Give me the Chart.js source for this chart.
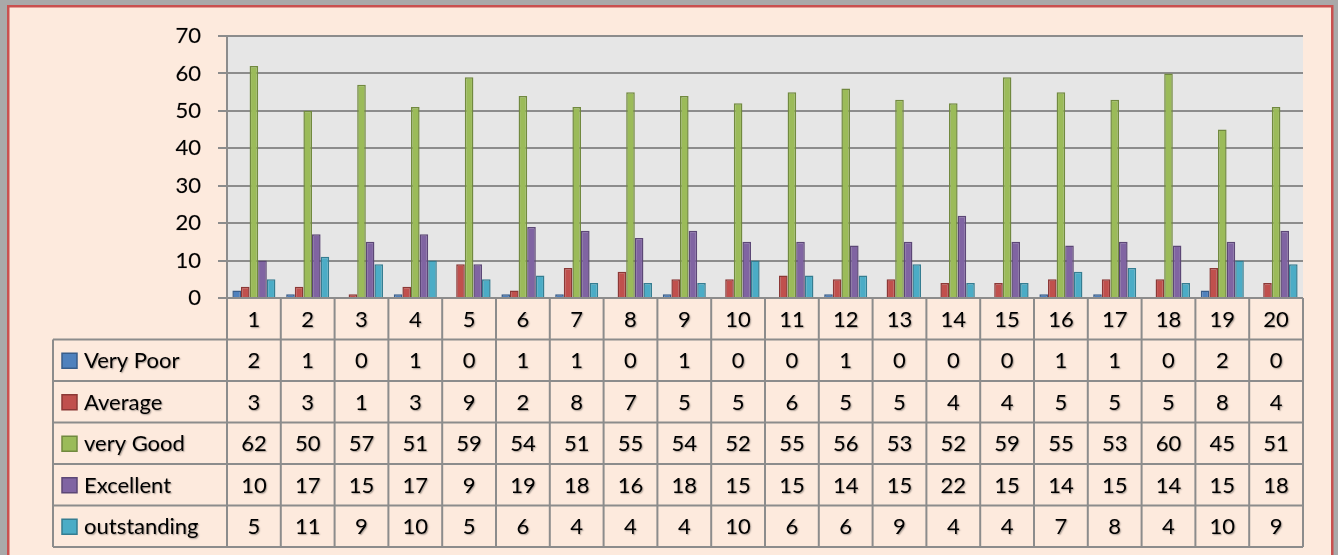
<!DOCTYPE html>
<html>
<head>
<meta charset="utf-8">
<script src="https://cdn.jsdelivr.net/npm/chart.js@4.4.0/dist/chart.umd.min.js"></script>
<style>
  html, body { margin: 0; padding: 0; background: #aaaaaa; }
  #box { position: absolute; left: 0; top: 0; width: 1338px; height: 555px; }
</style>
</head>
<body>
<div id="box"><canvas id="chart" width="1338" height="555"></canvas></div>
<script>
// categories + series
const categories = ["1","2","3","4","5","6","7","8","9","10","11","12","13","14","15","16","17","18","19","20"];
const veryPoor    = [2,1,0,1,0,1,1,0,1,0,0,1,0,0,0,1,1,0,2,0];
const average     = [3,3,1,3,9,2,8,7,5,5,6,5,5,4,4,5,5,5,8,4];
const veryGood    = [62,50,57,51,59,54,51,55,54,52,55,56,53,52,59,55,53,60,45,51];
const excellent   = [10,17,15,17,9,19,18,16,18,15,15,14,15,22,15,14,15,14,15,18];
const outstanding = [5,11,9,10,5,6,4,4,4,10,6,6,9,4,4,7,8,4,10,9];
const seriesNames = ["Very Poor","Average","very Good","Excellent","outstanding"];
const yMin = 0, yMax = 70, yStep = 10;

const fills   = ["#4f81bd","#c0504d","#9bbb59","#8064a2","#4bacc6"];
const borders = ["#385d8a","#8c3836","#71893f","#5c4776","#357d91"];
const seriesData = [veryPoor, average, veryGood, excellent, outstanding];

const FONT = "Lato, 'Open Sans', sans-serif";
const LINE = "#8c8c8c";

// frame + plot background
const backdrop = {
  id: "backdrop",
  beforeDraw(chart) {
    const ctx = chart.ctx, a = chart.chartArea;
    ctx.save();
    ctx.fillStyle = "#a9a9a9";
    ctx.fillRect(0, 0, chart.width, chart.height);
    ctx.fillStyle = "#fdeadd";
    ctx.fillRect(8, 6, 1325, 560);
    ctx.strokeStyle = "#c9504f";
    ctx.lineWidth = 2.5;
    ctx.strokeRect(8.25, 6.25, 1324, 560);
    ctx.fillStyle = "#e6e6e6";
    ctx.fillRect(a.left, a.top, a.right - a.left, a.bottom - a.top);
    ctx.restore();
  },
  // soft shadow on the text, like the office style in the picture
  beforeDatasetsDraw(chart) {
    chart.ctx.save();
  },
  afterDatasetsDraw(chart) {
    chart.ctx.restore();
  }
};

function textShadow(ctx) {
  ctx.shadowColor = "rgba(0,0,0,0.35)";
  ctx.shadowOffsetX = 1;
  ctx.shadowOffsetY = 1;
  ctx.shadowBlur = 1.5;
}

// data table under the plot, columns follow the x scale
const dataTable = {
  id: "dataTable",
  afterDraw(chart) {
    const ctx = chart.ctx, a = chart.chartArea, xs = chart.scales.x;
    const rowH = 41.5;
    const top = a.bottom;
    const bottom = top + rowH * 6;
    const labLeft = 53;
    const colW = (a.right - a.left) / categories.length;
    ctx.save();
    ctx.strokeStyle = LINE;
    ctx.lineWidth = 2;
    ctx.beginPath();
    // vertical lines
    for (let i = 0; i <= categories.length; i++) {
      const x = a.left + i * colW;
      ctx.moveTo(x, top); ctx.lineTo(x, bottom);
    }
    ctx.moveTo(labLeft, top + rowH); ctx.lineTo(labLeft, bottom);
    // horizontal lines
    for (let r = 1; r <= 6; r++) {
      const y = top + r * rowH;
      ctx.moveTo(labLeft, y); ctx.lineTo(a.right, y);
    }
    ctx.stroke();

    ctx.fillStyle = "#000";
    ctx.font = "22px " + FONT;
    ctx.textAlign = "center";
    ctx.textBaseline = "middle";
    ctx.save();
    textShadow(ctx);
    categories.forEach((c, i) => {
      const x = xs.getPixelForValue(i);
      ctx.fillText(c, x, top + rowH / 2 + 1);
      seriesData.forEach((d, s) => {
        ctx.fillText(String(d[i]), x, top + rowH * (s + 1.5) + 1);
      });
    });
    ctx.restore();
    // series labels with legend keys
    ctx.textAlign = "left";
    seriesNames.forEach((n, s) => {
      const y = top + rowH * (s + 1.5);
      ctx.fillStyle = fills[s];
      ctx.fillRect(62, y - 7, 15, 15);
      ctx.strokeStyle = borders[s];
      ctx.lineWidth = 1.5;
      ctx.strokeRect(62, y - 7, 15, 15);
      ctx.save();
      textShadow(ctx);
      ctx.fillStyle = "#000";
      ctx.fillText(n, 84, y + 1);
      ctx.restore();
    });
    ctx.restore();
  }
};

new Chart(document.getElementById("chart"), {
  type: "bar",
  data: {
    labels: categories,
    datasets: seriesNames.map((n, s) => ({
      label: n,
      data: seriesData[s],
      backgroundColor: fills[s],
      borderColor: borders[s],
      borderWidth: 1.5,
      categoryPercentage: 0.8,
      barPercentage: 1.0
    }))
  },
  options: {
    responsive: false,
    animation: false,
    layout: { padding: { left: 0, top: 36, right: 35, bottom: 257 } },
    plugins: { legend: { display: false }, tooltip: { enabled: false } },
    scales: {
      x: { display: false },
      y: {
        min: yMin, max: yMax,
        afterFit(scale) { scale.width = 227; },
        border: { display: true, color: LINE, width: 2 },
        grid: { color: LINE, lineWidth: 2, tickLength: 9, tickColor: LINE },
        ticks: { stepSize: yStep, padding: 17, color: "#000", textStrokeColor: "rgba(0,0,0,0.25)", textStrokeWidth: 0.6, font: { family: FONT, size: 22 } }
      }
    }
  },
  plugins: [backdrop, dataTable]
});
</script>
</body>
</html>
